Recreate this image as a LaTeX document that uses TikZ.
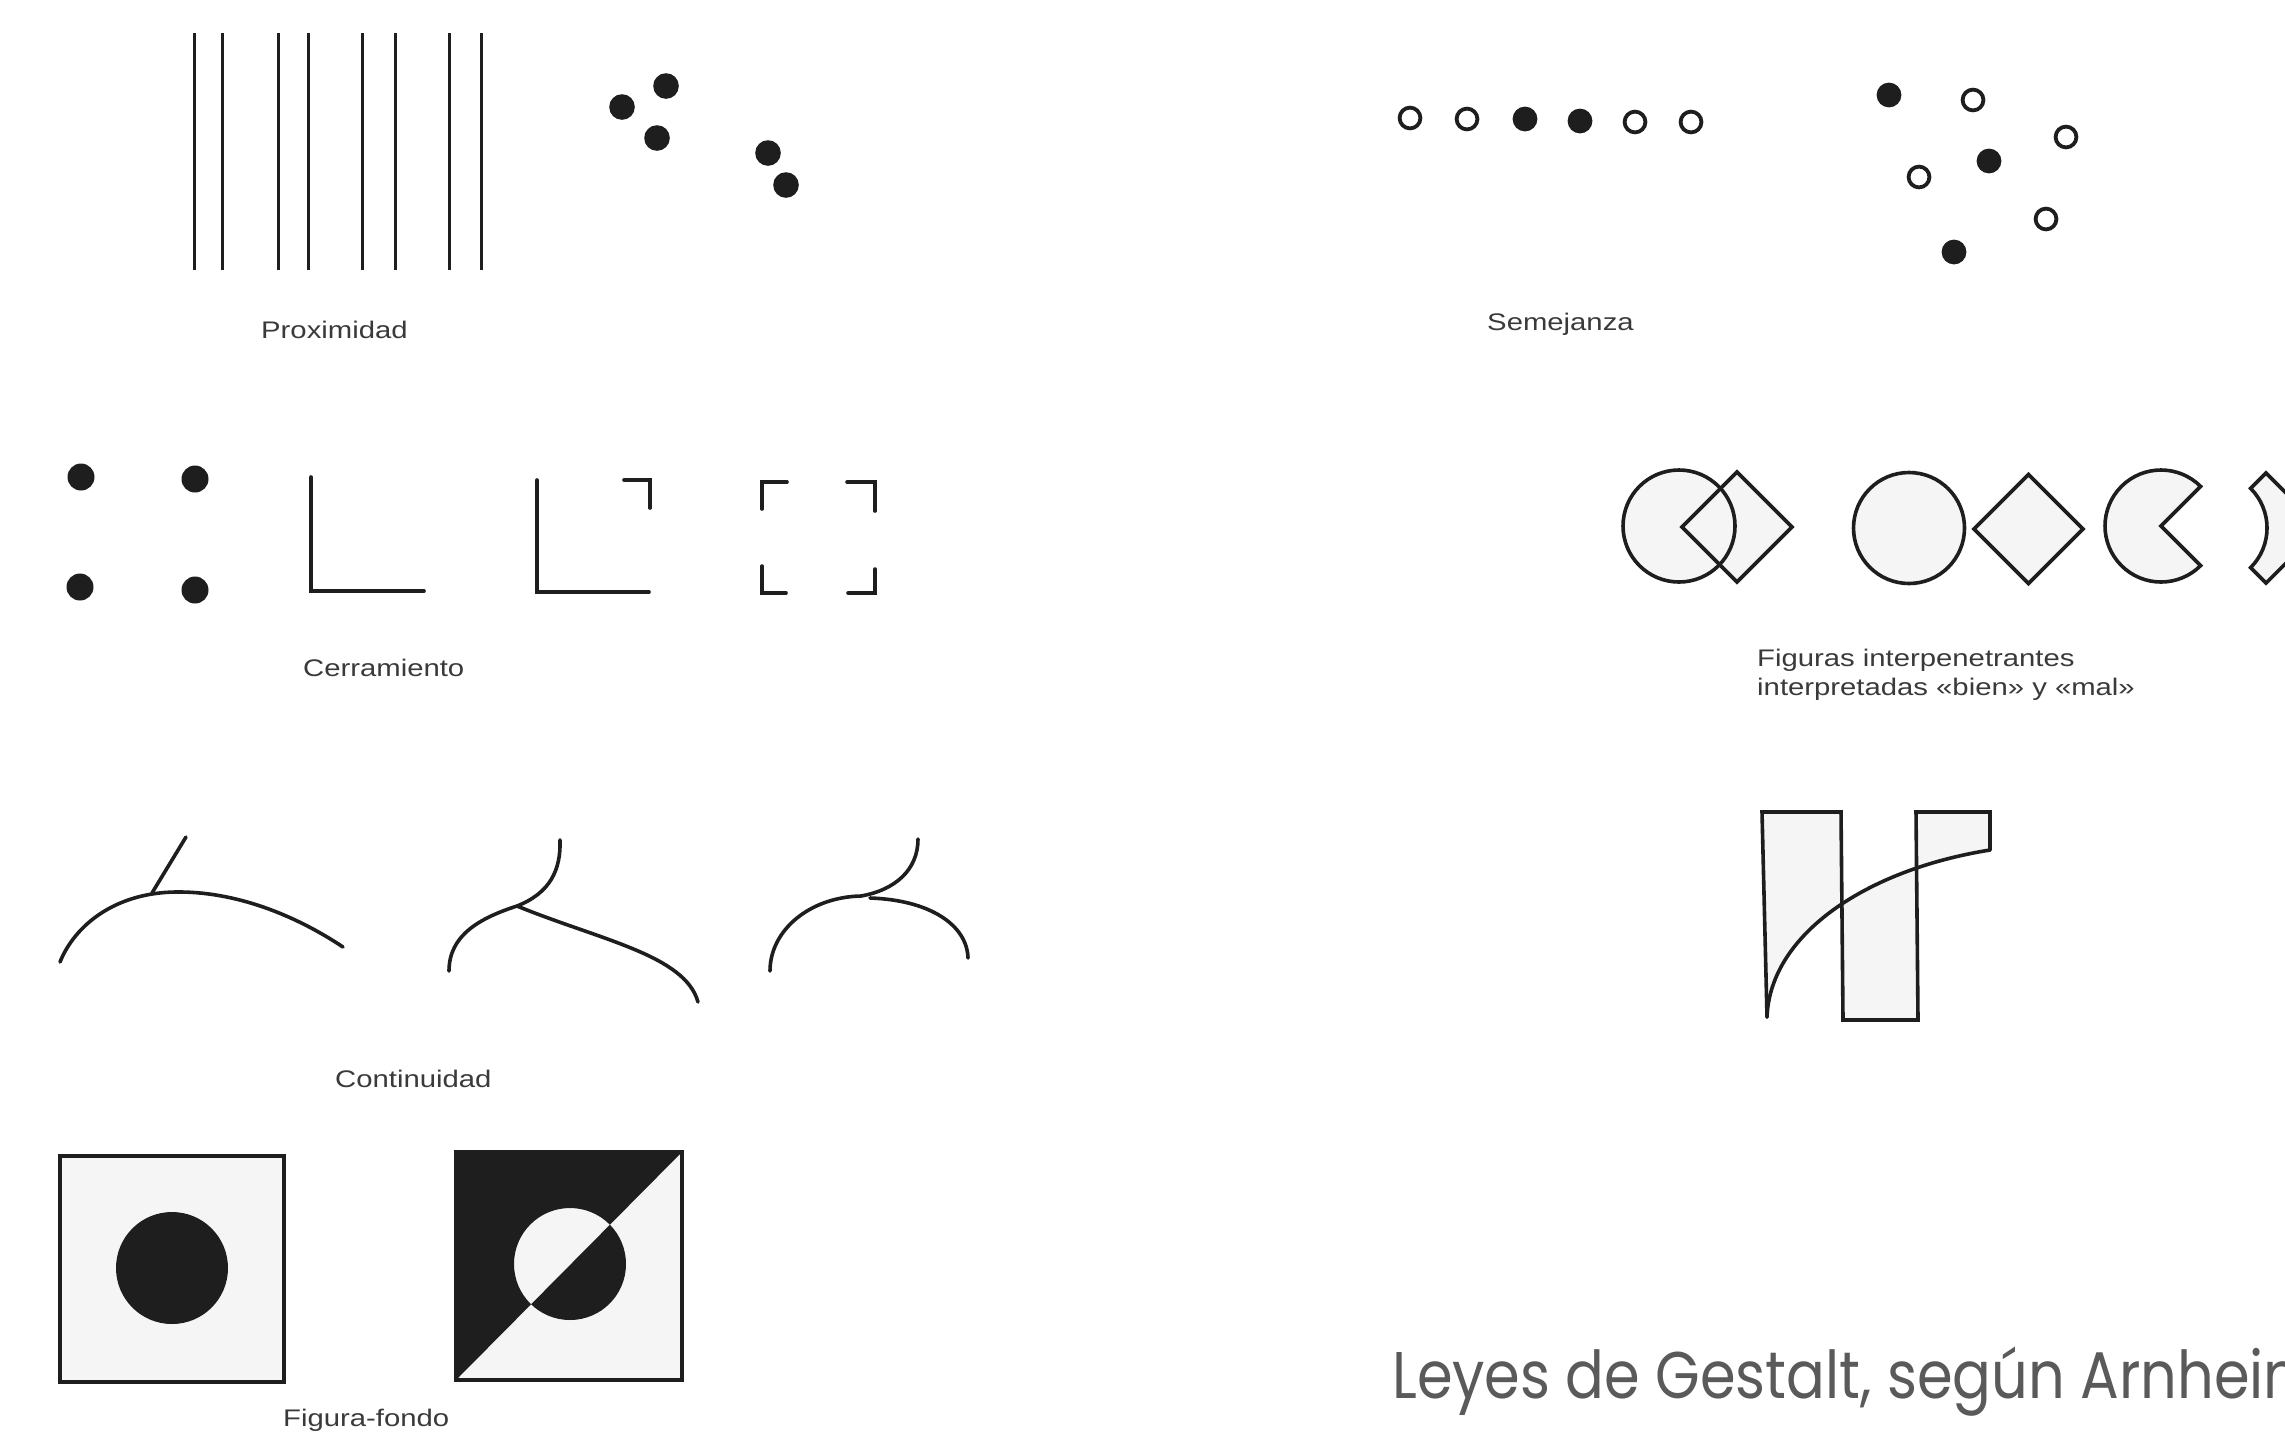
\documentclass[tikz,border=0pt]{standalone}
\usepackage{fontspec}
\setmainfont{Liberation Sans}
\newfontfamily\titlefont{Poppins}
\definecolor{ink}{HTML}{1E1E1E}
\definecolor{capgray}{HTML}{3A3A3A}
\definecolor{titlegray}{HTML}{5A5A5A}
\definecolor{paper}{HTML}{F5F5F5}
\newcommand\capfont{\fontsize{24}{29}\selectfont}
\newcommand\wide[1]{\scalebox{1.22}[1]{#1}}
\begin{document}
\begin{tikzpicture}[x=1pt,y=-1pt,
  vbar/.style={draw=ink,line width=3pt},
  inkline/.style={draw=ink,line width=3.6pt,line cap=round,line join=miter},
  softline/.style={draw=ink,line width=3.6pt,line cap=round},
  dotfill/.style={fill=ink},
  opendot/.style={draw=ink,line width=3.8pt,fill=white},
  figshape/.style={draw=ink,line width=3.6pt,fill=paper,line join=miter},
  captext/.style={anchor=base west,inner sep=0pt,text=capgray,font=\capfont}]
\useasboundingbox (0,0) rectangle (2285,1436);
\clip (0,0) rectangle (2285,1436);
\fill[white] (0,0) rectangle (2285,1436);

% ---------- Proximidad ----------
\foreach \x in {194.5,222.5,278,308.5,362.5,395,449.5,481.5}
  \draw[vbar] (\x,33) -- (\x,270);
\foreach \p in {(622,107),(666,86),(657,138),(768,153),(786,185)}
  \fill[dotfill] \p circle[radius=12.8];
\node[captext] (proximidad) at (261,338) {\wide{Proximidad}};

% ---------- Semejanza ----------
\foreach \p in {(1410,118),(1467,119),(1635,122),(1691,122),(1973,100),(2066,137),(1919,177),(2046,219)}
  \draw[opendot] \p circle[radius=10.4];
\foreach \p in {(1525,119),(1580,121),(1889,95),(1989,161),(1954,252)}
  \fill[dotfill] \p circle[radius=12.4];
\node[captext] (semejanza) at (1487,330) {\wide{Semejanza}};

% ---------- Cerramiento ----------
\foreach \p in {(81,477),(195,479),(80,587),(195,590)}
  \fill[dotfill] \p circle[radius=13.5];
\draw[inkline] (311,477) -- (311,591) -- (424,591);
\draw[inkline] (537,480) -- (537,592) -- (649,592);
\draw[inkline] (624,480) -- (650,480) -- (650,508);
\draw[inkline] (787,482) -- (762,482) -- (762,509);
\draw[inkline] (847,482) -- (875,482) -- (875,511);
\draw[inkline] (762,566) -- (762,593) -- (786,593);
\draw[inkline] (875,569) -- (875,593) -- (848,593);
\node[captext] (cerramiento) at (303,676) {\wide{Cerramiento}};

% ---------- Continuidad ----------
\draw[softline] (60,962) .. controls (75,925) and (115,893) .. (175,892)
            .. controls (235,891) and (295,915) .. (343,947);
\draw[softline] (152,893) -- (186,837);
\draw[softline] (449,971) .. controls (449,935) and (480,918) .. (517,906)
            .. controls (550,893) and (561,870) .. (560,840);
\draw[softline] (517,906) .. controls (600,940) and (685,955) .. (698,1002);
\draw[softline] (770,971) .. controls (770,930) and (810,897) .. (861,896)
            .. controls (895,890) and (918,870) .. (918,839);
\draw[softline] (870,898) .. controls (930,900) and (967,925) .. (968,958);
\node[captext] (continuidad) at (335,1087) {\wide{Continuidad}};

% ---------- Figura-fondo ----------
\fill[paper] (60,1156) rectangle (284,1382);
\fill[ink] (172,1268) circle[radius=56];
\draw[ink,line width=4.5pt] (60,1156) rectangle (284,1382);
\fill[paper] (456,1152) rectangle (682,1380);
\fill[ink,even odd rule] (456,1380) -- (456,1152) -- (682,1152) -- cycle
   (570,1264) circle[radius=56];
\draw[ink,line width=4.5pt] (456,1152) rectangle (682,1380);
\node[captext] (figurafondo) at (283,1426) {\wide{Figura-fondo}};

% ---------- Figuras interpenetrantes ----------
\fill[paper] (1679,526) circle[radius=56];
\fill[paper] (1682,527) -- (1737,472) -- (1792,527) -- (1737,582) -- cycle;
\draw[inkline] (1679,526) circle[radius=56];
\draw[inkline] (1682,527) -- (1737,472) -- (1792,527) -- (1737,582) -- cycle;
\draw[figshape] (1909,528) circle[radius=55.5];
\draw[figshape] (1974,529) -- (2028.5,474.5) -- (2083,529) -- (2028.5,583.5) -- cycle;
\draw[figshape] (2161,526) -- ([shift={(2161,526)}]-45:56) arc[start angle=-45,end angle=-315,radius=56] -- cycle;
\draw[figshape] (2266,473) -- (2250.6,488.4) arc[start angle=-45,end angle=45,radius=56]
   -- (2266,583) -- (2321,528) -- cycle;
\node[captext] (figuras1) at (1757,666) {\wide{Figuras interpenetrantes}};
\node[captext] (figuras2) at (1757,695) {\wide{interpretadas «bien» y «mal»}};

% ---------- Interpenetrating rectangles ----------
\begin{scope}
  \clip (1767,1017) .. controls (1770,935) and (1865,870) .. (1990,850)
        -- (2010,850) -- (2010,790) -- (1740,790) -- (1740,1017) -- cycle;
  \fill[paper] (1761,812) -- (1841,812) -- (1843,1020) -- (1767,1017) -- cycle;
  \fill[paper] (1916,812) -- (1990,812) -- (1990,890) -- (1917,890) -- cycle;
\end{scope}
\begin{scope}
  \clip (1767,1017) .. controls (1770,935) and (1865,870) .. (1990,850)
        -- (2010,850) -- (2010,1040) -- (1740,1040) -- cycle;
  \fill[paper] (1841,812) -- (1916,812) -- (1918,1020) -- (1843,1020) -- cycle;
\end{scope}
\draw[inkline] (1767,1017) -- (1762,812) -- (1841,812) -- (1843,1020) -- (1918,1020)
   -- (1916,812) -- (1990,812) -- (1990,850);
\draw[softline] (1767,1017) .. controls (1770,935) and (1865,870) .. (1990,850);

% ---------- Title ----------
\node[anchor=base west,inner sep=0pt,text=titlegray,font=\titlefont\fontsize{66}{70}\selectfont]
  (title) at (1392,1398) {\scalebox{0.87}[1]{Leyes de Gestalt, según Arnheim}};
\end{tikzpicture}
\end{document}
